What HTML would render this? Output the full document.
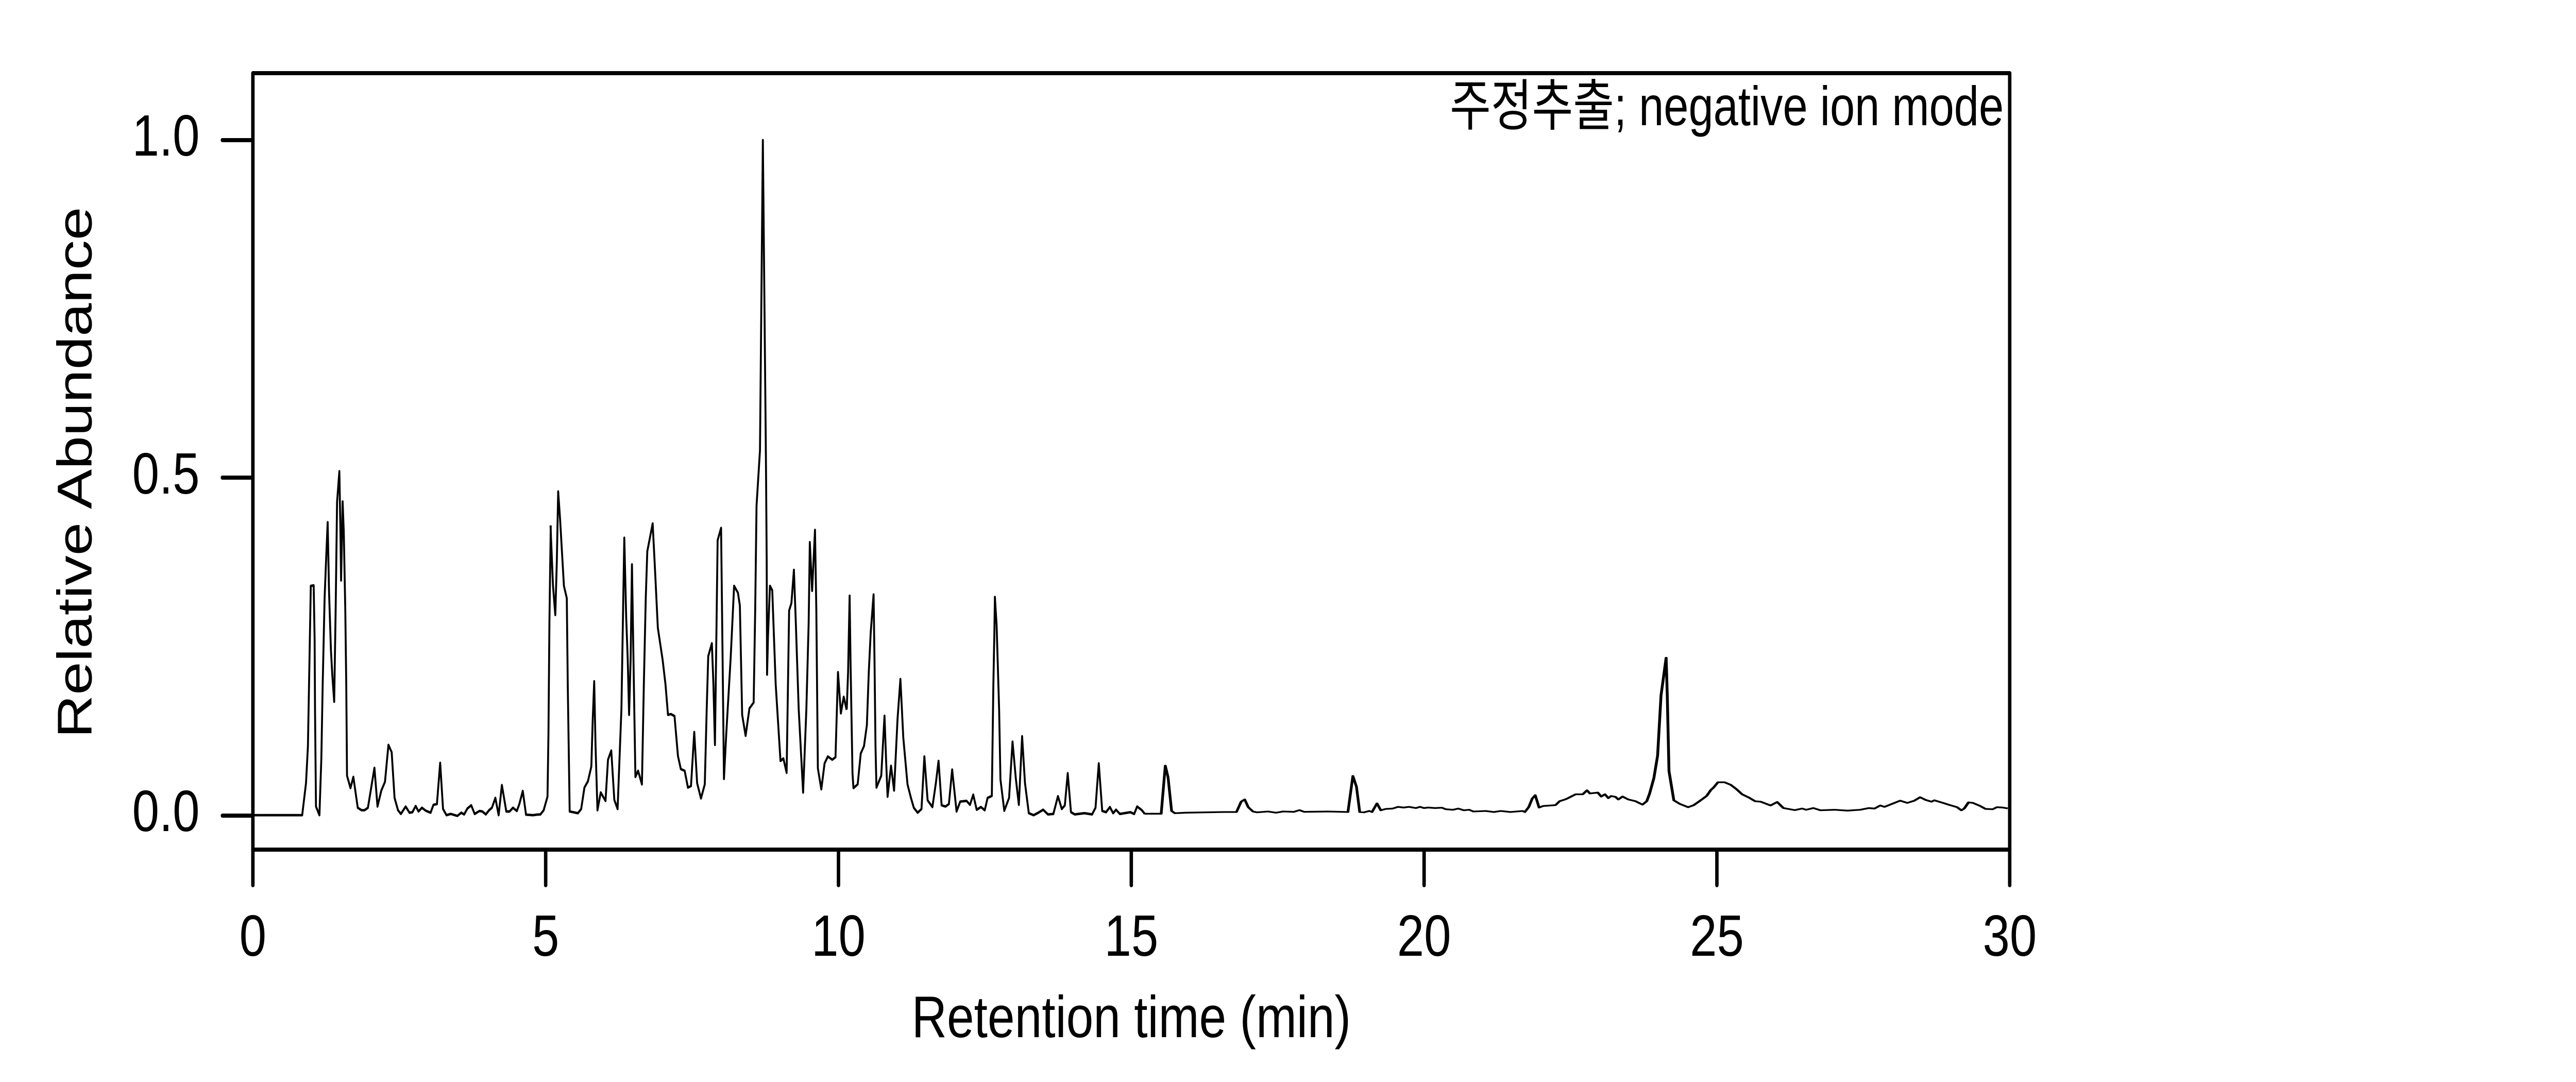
<!DOCTYPE html>
<html><head><meta charset="utf-8"><style>html,body{margin:0;padding:0;background:#fff;width:100%;height:100%;overflow:hidden}svg{display:block;width:100vw;height:100vh}</style></head>
<body>
<svg viewBox="0 0 6000 2100" preserveAspectRatio="none" xmlns="http://www.w3.org/2000/svg">
<rect width="6000" height="2100" fill="#fff"/>
<g font-family="Liberation Sans, Arial, sans-serif" fill="#000">
<text x="465" y="302" font-size="113" text-anchor="end">1.0</text>
<text x="465" y="958" font-size="113" text-anchor="end">0.5</text>
<text x="465" y="1613" font-size="113" text-anchor="end">0.0</text>
<text x="589" y="1855" font-size="113" text-anchor="middle">0</text>
<text x="1271" y="1855" font-size="113" text-anchor="middle">5</text>
<text x="1953" y="1855" font-size="113" text-anchor="middle">10</text>
<text x="2635" y="1855" font-size="113" text-anchor="middle">15</text>
<text x="3317" y="1855" font-size="113" text-anchor="middle">20</text>
<text x="3999" y="1855" font-size="113" text-anchor="middle">25</text>
<text x="4681" y="1855" font-size="113" text-anchor="middle">30</text>
<text x="2635" y="2013" font-size="114" text-anchor="middle" textLength="1023" lengthAdjust="spacingAndGlyphs">Retention time (min)</text>
<text transform="translate(213,917) rotate(-90)" font-size="114" text-anchor="middle" textLength="1031" lengthAdjust="spacingAndGlyphs">Relative Abundance</text>
<text x="4667" y="243" font-size="108" text-anchor="end" textLength="1290" lengthAdjust="spacingAndGlyphs" font-family="Liberation Sans, 'Noto Sans CJK KR', NanumGothic, sans-serif">주정추출; negative ion mode</text>
</g>
<g stroke="#000" stroke-width="8" stroke-linecap="round" fill="none">
<rect x="589" y="142" width="4092" height="1507" stroke-linejoin="round"/>
<line x1="518" y1="272" x2="589" y2="272"/>
<line x1="518" y1="927" x2="589" y2="927"/>
<line x1="518" y1="1583" x2="589" y2="1583"/>
<line x1="589" y1="1649" x2="589" y2="1718"/>
<line x1="1271" y1="1649" x2="1271" y2="1718"/>
<line x1="1953" y1="1649" x2="1953" y2="1718"/>
<line x1="2635" y1="1649" x2="2635" y2="1718"/>
<line x1="3317" y1="1649" x2="3317" y2="1718"/>
<line x1="3999" y1="1649" x2="3999" y2="1718"/>
<line x1="4681" y1="1649" x2="4681" y2="1718"/>
</g>
<g stroke="#000" stroke-width="4.5" fill="none" stroke-linejoin="round">
<line x1="589" y1="1582" x2="593" y2="1582"/>
<polyline transform="translate(590,850) scale(0.4464,0.4785)" stroke-width="10" points="5,1530 255,1530 275,1400 285,1250 300,600 315,598 320,820 322,1100 327,1495 345,1530 355,1300 362,1000 372,650 380,490 388,342 395,620 405,860 412,960 422,1070 430,680 437,260 449,135 455,400 458,578 462,420 466,258 472,380 480,700 485,1000 489,1370 507,1420 522,1375 545,1500 565,1510 580,1510 598,1500 632,1338 648,1495 668,1430 687,1395 705,1245 722,1275 737,1460 755,1510 770,1525 795,1495 815,1520 830,1518 847,1493 862,1515 880,1500 900,1512 925,1520 940,1488 958,1485 975,1318 990,1505 1008,1530 1030,1525 1065,1533 1085,1520 1100,1527 1117,1503 1137,1490 1155,1525 1180,1513 1195,1515 1213,1527 1230,1510 1245,1500 1263,1460 1280,1530 1297,1408 1320,1515 1337,1515 1355,1500 1375,1513 1388,1485 1406,1432 1423,1528 1460,1530 1478,1528 1498,1527 1515,1510 1535,1455 1540,1200 1545,750 1552,355"/>
<polyline transform="translate(1280,850) scale(0.4464,0.4785)" stroke-width="10" points="5,355 18,600 30,718 38,500 45,217 55,330 75,600 90,650 95,1000 105,1515 148,1522 165,1505 182,1418 200,1393 218,1333 225,1150 233,987 240,1250 250,1510 267,1438 292,1472 305,1305 322,1268 338,1468 355,1505 375,1100 383,730 390,405 400,730 408,900 415,1123 423,900 430,513 440,1000 448,1375 462,1350 482,1405 492,1000 502,650 510,460 520,420 538,347 550,530 565,770 590,900 605,1000 618,1123 633,1120 652,1128 670,1290 685,1343 705,1350 722,1418 738,1412 755,1193 770,1400 790,1462 810,1405 820,1100 828,885 847,833 855,1000 863,1245 870,830 877,415 895,365 903,900 910,1383 922,1200 945,893 963,600 983,628 993,680 1005,1123 1023,1208 1043,1097 1065,1073 1073,700 1080,275 1098,50 1113,-1208 1128,0 1130,180 1133,500 1135,960 1140,800 1150,600 1162,618 1180,1000 1205,1310 1220,1300 1237,1358 1250,700 1262,670 1275,535 1285,750 1300,1100 1323,1438 1340,1100 1352,750 1358,423 1370,620 1385,373 1392,700 1400,1340 1418,1425 1435,1320 1452,1292 1475,1305 1492,1295 1505,950 1520,1117 1535,1050 1550,1103"/>
<polyline transform="translate(1970,850) scale(0.4464,0.4785)" stroke-width="10" points="5,1100 12,950 20,640 25,920 35,1360 40,1420 62,1405 78,1280 95,1250 110,1165 120,950 130,790 145,635 150,910 155,1250 160,1418 185,1370 202,1127 210,1300 218,1455 236,1330 252,1430 270,1140 285,978 300,1215 322,1405 340,1460 355,1500 375,1520 395,1505 410,1292 427,1470 452,1497 470,1400 484,1310 500,1490 520,1495 538,1485 555,1345 578,1515 597,1475 630,1472 648,1488 665,1447 683,1508 705,1497 725,1510 740,1460 762,1452 770,1000 775,800 778,645 787,760 800,1100 807,1385 827,1512 852,1460 870,1232 887,1380 903,1488 920,1210 935,1400 955,1522 980,1530 1000,1522 1030,1508 1055,1527 1083,1525 1107,1453 1127,1505 1143,1490 1158,1360 1175,1518 1195,1527 1245,1522 1285,1527 1303,1500 1320,1320 1338,1513 1358,1518 1378,1497 1395,1522 1410,1508 1430,1525 1485,1518 1505,1525 1520,1495 1545,1510 1560,1525"/>
<polyline transform="translate(2660,1400) scale(0.6378,0.3333)" stroke-width="10" points="10,538 70,538 85,258 95,325 108,522 120,535 160,532 300,528 345,528 362,468 375,455 388,500 405,525 420,530 460,525 490,532 515,525 555,527 575,517 592,527 680,525 752,528 770,318 783,380 795,528 810,530 830,522 840,528 858,478 872,518 890,510 915,508 935,498 955,502 975,498 1000,505 1015,498 1030,505 1045,502 1070,505 1095,503 1110,512 1135,515 1155,508 1175,518 1195,515 1210,525 1255,522 1285,528 1310,522 1345,528 1390,522 1398,528 1412,500 1425,450 1436,430 1450,502 1465,493 1510,488 1525,465 1545,455"/>
<polyline transform="translate(3650,1250) scale(0.6631,0.3333)" stroke-width="10" points="-7,905 0,900 30,875 55,875 70,852 80,870 108,865 120,888 133,875 145,897 155,885 170,890 180,905 195,888 215,905 240,915 265,935 280,915 290,870 305,780 318,650 330,300 348,80 352,300 358,740 375,910 395,930 425,950 445,938 465,915 490,885 505,850 515,835 530,805 553,805 575,820 595,845 615,875 640,895 660,915 680,918 715,940 738,920 760,955 800,967 825,958 840,965 865,955 890,968 940,965 985,970 1030,965 1060,955 1080,958 1100,940 1115,948 1170,912 1195,925 1220,912 1240,892 1260,908 1280,918 1290,910 1320,925 1345,938 1370,950 1385,968 1395,958 1410,922 1425,925 1450,942 1470,960 1495,962 1510,950 1530,952 1548,957"/>
</g>
</svg>
</body></html>
